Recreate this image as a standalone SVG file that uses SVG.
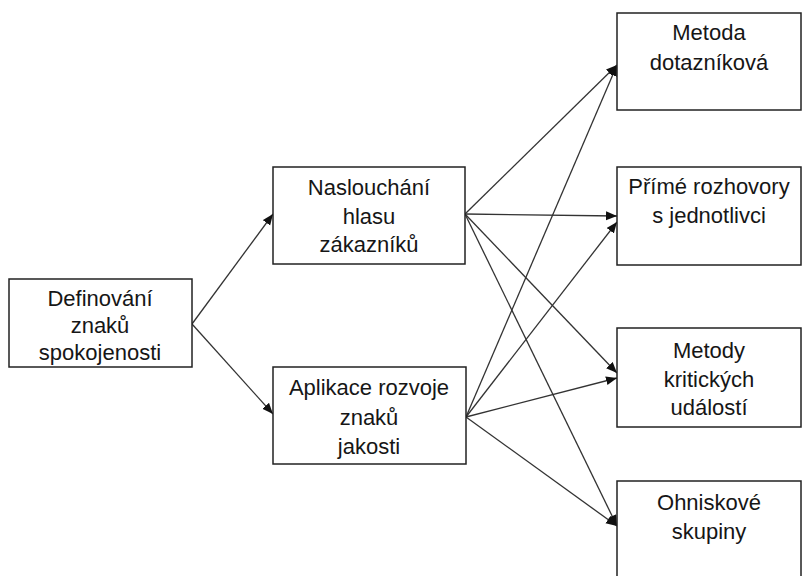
<svg xmlns="http://www.w3.org/2000/svg" width="804" height="576" viewBox="0 0 804 576">
<style>
.box{fill:#fff;stroke:#222;stroke-width:1.5}
.t{font-family:"Liberation Sans","Open Sans",sans-serif;font-size:22px;fill:#161616;text-anchor:middle}
.c{stroke:#333;stroke-width:1.3;fill:none;marker-end:url(#ah)}
</style>
<defs>
<marker id="ah" markerUnits="userSpaceOnUse" markerWidth="12" markerHeight="10" refX="11" refY="4.5" orient="auto">
<path d="M0,0 L11,4.5 L0,9 z" fill="#111"/>
</marker>
</defs>
<rect width="804" height="576" fill="#fff"/>
<g id="connectors">
<line class="c" x1="192" y1="324" x2="273" y2="214"/>
<line class="c" x1="192" y1="324" x2="273" y2="414"/>
<line class="c" x1="465" y1="214" x2="617" y2="65"/>
<line class="c" x1="465" y1="214" x2="617" y2="216"/>
<line class="c" x1="465" y1="214" x2="617" y2="373"/>
<line class="c" x1="465" y1="214" x2="617" y2="526"/>
<line class="c" x1="466" y1="417" x2="617" y2="65"/>
<line class="c" x1="466" y1="417" x2="617" y2="222"/>
<line class="c" x1="466" y1="417" x2="617" y2="378"/>
<line class="c" x1="466" y1="417" x2="617" y2="526"/>
</g>
<g id="n1">
<rect class="box" x="9" y="279" width="183" height="88"/>
<text class="t" x="100" y="306">Definování</text>
<text class="t" x="100" y="333">znaků</text>
<text class="t" x="100" y="360">spokojenosti</text>
</g>
<g id="n2">
<rect class="box" x="273" y="167" width="192" height="97"/>
<text class="t" x="369" y="195">Naslouchání</text>
<text class="t" x="369" y="224">hlasu</text>
<text class="t" x="369" y="252">zákazníků</text>
</g>
<g id="n3">
<rect class="box" x="273" y="367" width="193" height="97"/>
<text class="t" x="369" y="395">Aplikace rozvoje</text>
<text class="t" x="369" y="425">znaků</text>
<text class="t" x="369" y="454">jakosti</text>
</g>
<g id="n4">
<rect class="box" x="617" y="13" width="184" height="97"/>
<text class="t" x="709" y="40">Metoda</text>
<text class="t" x="709" y="70">dotazníková</text>
</g>
<g id="n5">
<rect class="box" x="617" y="167" width="184" height="98"/>
<text class="t" x="709" y="194">Přímé rozhovory</text>
<text class="t" x="709" y="223">s jednotlivci</text>
</g>
<g id="n6">
<rect class="box" x="617" y="328" width="184" height="99"/>
<text class="t" x="709" y="358">Metody</text>
<text class="t" x="709" y="387">kritických</text>
<text class="t" x="709" y="415">událostí</text>
</g>
<g id="n7">
<rect class="box" x="617" y="481" width="184" height="102"/>
<text class="t" x="709" y="510">Ohniskové</text>
<text class="t" x="709" y="539">skupiny</text>
</g>
</svg>
